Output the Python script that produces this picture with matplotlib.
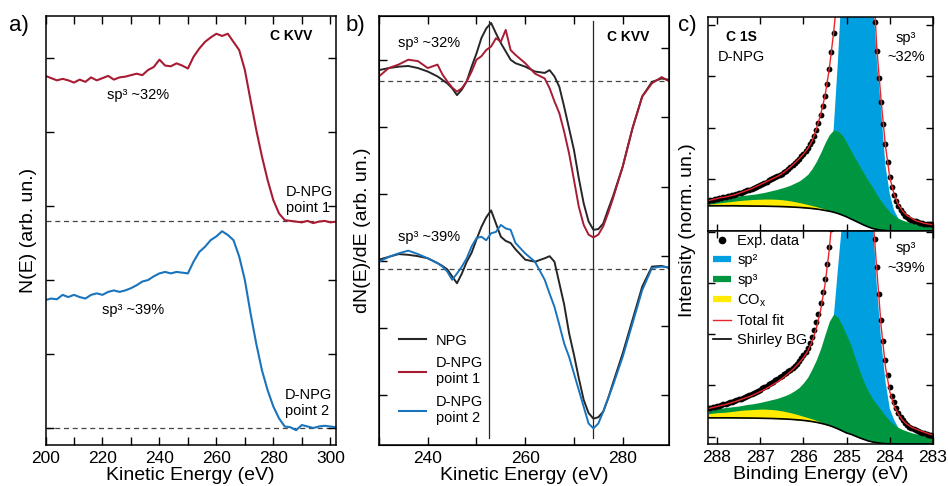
import numpy as np
import matplotlib
matplotlib.use('Agg')
import matplotlib.pyplot as plt
from matplotlib.lines import Line2D

plt.rcParams['font.family'] = ['Liberation Sans', 'DejaVu Sans']
plt.rcParams['mathtext.fontset'] = 'custom'
plt.rcParams['mathtext.rm'] = 'Liberation Sans'

# ---------------- Panel a : N(E) ----------------
ke_a = np.arange(200, 303, 2)
nE_point1 = [4.76, 4.73, 4.70, 4.72, 4.70, 4.67, 4.71, 4.68, 4.74, 4.70,
             4.73, 4.76, 4.71, 4.74, 4.75, 4.77, 4.79, 4.77, 4.84, 4.88,
             4.98, 4.90, 4.89, 4.93, 4.90, 4.86, 5.02, 5.13, 5.22, 5.28,
             5.33, 5.30, 5.33, 5.22, 5.11, 4.84, 4.43, 4.03, 3.67, 3.35,
             3.08, 2.90, 2.81, 2.80, 2.79, 2.78, 2.80, 2.77, 2.79, 2.80,
             2.78, 2.79]
nE_point2 = [1.73, 1.75, 1.74, 1.80, 1.77, 1.80, 1.77, 1.75, 1.80, 1.82,
             1.80, 1.84, 1.86, 1.84, 1.86, 1.89, 1.93, 1.98, 2.00, 2.05,
             2.09, 2.11, 2.09, 2.11, 2.10, 2.09, 2.25, 2.38, 2.45, 2.54,
             2.59, 2.66, 2.61, 2.54, 2.32, 2.00, 1.55, 1.14, 0.78, 0.51,
             0.29, 0.13, 0.02, 0.01, -0.03, 0.04, 0.02, 0.00, 0.02, 0.03,
             0.02, 0.01]
base_a = [2.80, 0.0]

# ---------------- Panel b : dN(E)/dE ----------------
ke_b = [230, 232, 234, 236, 238, 240, 242, 243, 244, 245, 246, 247, 248, 249,
        250, 251, 252, 253, 254, 255, 256, 257, 258, 260, 262, 264, 265, 266,
        267, 268, 269, 270, 271, 272, 273, 274, 275, 276, 277, 278, 280, 282,
        284, 286, 288, 289.5]
npg_up = [4.68, 4.71, 4.73, 4.74, 4.71, 4.66, 4.59, 4.54, 4.49, 4.42, 4.32, 4.40,
          4.52, 4.73, 4.92, 5.14, 5.28, 5.36, 5.21, 5.07, 4.95, 4.83, 4.78, 4.73,
          4.66, 4.64, 4.68, 4.59, 4.44, 4.15, 3.84, 3.53, 3.12, 2.76, 2.50, 2.38,
          2.39, 2.47, 2.67, 2.86, 3.29, 3.84, 4.30, 4.51, 4.56, 4.54]
dnpg_p1 = [4.59, 4.71, 4.76, 4.83, 4.81, 4.71, 4.76, 4.62, 4.52, 4.43, 4.37, 4.42,
           4.52, 4.66, 4.83, 4.88, 4.97, 5.02, 5.14, 5.09, 5.26, 4.97, 4.90, 4.78,
           4.63, 4.56, 4.42, 4.23, 4.06, 3.79, 3.48, 3.10, 2.71, 2.45, 2.31, 2.27,
           2.31, 2.43, 2.62, 2.83, 3.29, 3.84, 4.30, 4.49, 4.58, 4.52]
npg_lo = [1.95, 1.99, 2.03, 2.02, 2.00, 1.97, 1.90, 1.86, 1.81, 1.71, 1.61, 1.75,
          1.92, 2.05, 2.24, 2.42, 2.56, 2.66, 2.47, 2.28, 2.22, 2.19, 2.10, 1.95,
          1.92, 1.97, 2.00, 1.92, 1.61, 1.30, 0.89, 0.58, 0.24, -0.07, -0.26, -0.34,
          -0.32, -0.24, -0.05, 0.17, 0.60, 1.08, 1.56, 1.85, 1.86, 1.83]
dnpg_p2 = [1.92, 1.99, 2.04, 2.08, 2.03, 1.97, 1.90, 1.85, 1.78, 1.66, 1.75, 1.85,
           1.97, 2.14, 2.26, 2.28, 2.23, 2.33, 2.35, 2.45, 2.40, 2.38, 2.19, 2.04,
           1.92, 1.66, 1.46, 1.27, 1.01, 0.74, 0.55, 0.31, 0.07, -0.17, -0.41, -0.48,
           -0.41, -0.24, -0.05, 0.14, 0.55, 1.03, 1.51, 1.83, 1.85, 1.84]
base_b = [4.53, 1.82]
vline_ke = [252.6, 274.0]

# ---------------- Panel c : C 1s fits ----------------
be = np.round(np.linspace(288.2, 283.0, 53), 2)
be_exp = np.round(np.linspace(288.2, 283.0, 105), 2)

bg_1 = [0.49, 0.49, 0.49, 0.49, 0.49, 0.49, 0.49, 0.488, 0.487, 0.486,
        0.485, 0.484, 0.483, 0.482, 0.480, 0.478, 0.476, 0.474, 0.471, 0.467,
        0.463, 0.458, 0.452, 0.445, 0.437, 0.427, 0.415, 0.40, 0.385,
        0.365, 0.34, 0.31, 0.275, 0.235, 0.195, 0.155, 0.115, 0.08, 0.05,
        0.03, 0.017, 0.009, 0.004, 0.002, 0.0, 0.0, 0.0, 0.0, 0.0, 0.0, 0.0, 0.0, 0.0]
cox_1 = [0.52, 0.53, 0.54, 0.55, 0.56, 0.57, 0.58, 0.59, 0.597, 0.604,
         0.61, 0.614, 0.617, 0.62, 0.62, 0.619, 0.615, 0.608, 0.598, 0.585,
         0.57, 0.553, 0.535, 0.515, 0.495, 0.473, 0.45, 0.425, 0.395,
         0.367, 0.34, 0.31, 0.275, 0.235, 0.195, 0.155, 0.115, 0.08, 0.05,
         0.03, 0.017, 0.009, 0.004, 0.002, 0.0, 0.0, 0.0, 0.0, 0.0, 0.0, 0.0, 0.0, 0.0]
sp3_1 = [0.60, 0.61, 0.62, 0.635, 0.645, 0.655, 0.665, 0.675, 0.69, 0.70,
         0.71, 0.72, 0.735, 0.75, 0.77, 0.79, 0.81, 0.835, 0.86, 0.89,
         0.93, 0.97, 1.03, 1.10, 1.21, 1.35, 1.52, 1.71, 1.87,
         1.96, 1.94, 1.86, 1.72, 1.56, 1.41, 1.27, 1.12, 0.98, 0.85,
         0.71, 0.58, 0.47, 0.37, 0.30, 0.245, 0.21, 0.18, 0.16, 0.14,
         0.125, 0.115, 0.105, 0.10]
sp2_1 = [0.50, 0.50, 0.50, 0.50, 0.50, 0.50, 0.50, 0.50, 0.50, 0.50,
         0.50, 0.50, 0.50, 0.50, 0.50, 0.50, 0.50, 0.50, 0.50, 0.51,
         0.52, 0.53, 0.55, 0.58, 0.62, 0.70, 0.85, 1.05, 1.40,
         1.96, 3.30, 4.90, 6.50, 8.20, 9.50, 10.0, 9.40, 7.60, 4.70,
         3.32, 2.35, 1.27, 0.72, 0.40, 0.24, 0.18, 0.14, 0.11, 0.09,
         0.07, 0.06, 0.05, 0.04]
fit_1 = [0.59, 0.61, 0.63, 0.65, 0.66, 0.68, 0.70, 0.73, 0.76, 0.79,
         0.82, 0.86, 0.90, 0.94, 0.98, 1.02, 1.06, 1.11, 1.17, 1.24,
         1.32, 1.40, 1.49, 1.60, 1.74, 1.98, 2.26, 2.62, 3.15,
         3.85, 4.70, 5.90, 7.80, 9.70, 11.0, 11.4, 10.6, 8.20, 5.10,
         3.55, 2.52, 1.65, 1.04, 0.71, 0.51, 0.38, 0.30, 0.25, 0.20,
         0.175, 0.15, 0.135, 0.12]
exp_1 = [0.59, 0.60, 0.61, 0.62, 0.63, 0.64, 0.65, 0.655, 0.665, 0.675,
         0.685, 0.69, 0.70, 0.72, 0.73, 0.745, 0.76, 0.775, 0.79, 0.80,
         0.82, 0.84, 0.86, 0.88, 0.90, 0.92, 0.94, 0.96, 0.985, 1.00,
         1.02, 1.04, 1.06, 1.09, 1.11, 1.14, 1.17, 1.21, 1.24, 1.28,
         1.32, 1.36, 1.40, 1.45, 1.50, 1.55, 1.61, 1.68, 1.75, 1.85,
         1.97, 2.10, 2.25, 2.42, 2.62, 2.86, 3.14, 3.47, 3.84, 4.25,
         4.7, 5.3, 5.9, 6.8, 7.8, 8.8, 9.7, 10.5, 11.0, 11.3,
         11.4, 11.1, 10.6, 9.6, 8.2, 6.6, 5.1,
         4.05, 3.50, 2.98, 2.50, 2.07, 1.68, 1.34, 1.05, 0.86, 0.70,
         0.58, 0.48, 0.40, 0.34, 0.30, 0.27, 0.24, 0.22, 0.20, 0.185,
         0.17, 0.16, 0.15, 0.145, 0.14, 0.135, 0.13, 0.125]

bg_2 = [0.37, 0.37, 0.37, 0.37, 0.37, 0.37, 0.369, 0.368, 0.367, 0.366,
        0.365, 0.364, 0.362, 0.36, 0.358, 0.356, 0.353, 0.35, 0.346, 0.341,
        0.335, 0.328, 0.32, 0.31, 0.298, 0.283, 0.265, 0.245, 0.22,
        0.19, 0.155, 0.115, 0.075, 0.05, 0.015, -0.02, -0.05, -0.08, -0.10,
        -0.115, -0.125, -0.133, -0.137, -0.14, -0.14, -0.14, -0.14, -0.14, -0.14,
        -0.14, -0.14, -0.14, -0.14]
cox_2 = [0.45, 0.46, 0.47, 0.475, 0.48, 0.49, 0.50, 0.51, 0.52, 0.525,
         0.53, 0.535, 0.54, 0.54, 0.535, 0.53, 0.52, 0.505, 0.49, 0.47,
         0.45, 0.425, 0.40, 0.375, 0.35, 0.32, 0.29, 0.26, 0.23,
         0.195, 0.155, 0.115, 0.075, 0.05, 0.015, -0.02, -0.05, -0.08, -0.10,
         -0.115, -0.125, -0.133, -0.137, -0.14, -0.14, -0.14, -0.14, -0.14, -0.14,
         -0.14, -0.14, -0.14, -0.14]
sp3_2 = [0.52, 0.535, 0.55, 0.56, 0.57, 0.58, 0.59, 0.60, 0.615, 0.63,
         0.64, 0.655, 0.67, 0.69, 0.71, 0.73, 0.75, 0.78, 0.81, 0.85,
         0.90, 0.96, 1.05, 1.16, 1.32, 1.50, 1.72, 1.99, 2.25,
         2.39, 2.33, 2.17, 1.98, 1.79, 1.53, 1.29, 1.07, 0.89, 0.74,
         0.63, 0.52, 0.41, 0.31, 0.24, 0.18, 0.14, 0.11, 0.08, 0.06,
         0.04, 0.03, 0.015, 0.0]
sp2_2 = [0.40, 0.40, 0.40, 0.40, 0.40, 0.40, 0.40, 0.40, 0.40, 0.40,
         0.40, 0.40, 0.40, 0.40, 0.40, 0.40, 0.40, 0.40, 0.40, 0.41,
         0.42, 0.43, 0.45, 0.48, 0.53, 0.60, 0.75, 0.95, 1.30,
         2.30, 3.27, 4.20, 6.00, 7.80, 9.20, 9.80, 9.30, 7.40, 4.30,
         2.94, 1.88, 1.08, 0.55, 0.33, 0.17, 0.12, 0.09, 0.06, 0.04,
         0.03, 0.02, 0.01, 0.0]
fit_2 = [0.55, 0.57, 0.59, 0.61, 0.63, 0.655, 0.68, 0.71, 0.74, 0.77,
         0.80, 0.84, 0.88, 0.92, 0.97, 1.02, 1.07, 1.13, 1.20, 1.27,
         1.35, 1.44, 1.54, 1.67, 1.85, 2.11, 2.47, 2.96, 3.65,
         4.60, 5.80, 7.00, 8.30, 9.70, 11.0, 11.6, 11.2, 8.90, 4.40,
         3.25, 2.15, 1.36, 0.88, 0.60, 0.44, 0.32, 0.245, 0.19, 0.15,
         0.12, 0.09, 0.06, 0.03]
exp_2 = [0.56, 0.57, 0.58, 0.59, 0.60, 0.61, 0.62, 0.63, 0.645, 0.66,
         0.67, 0.685, 0.70, 0.715, 0.73, 0.745, 0.76, 0.78, 0.80, 0.82,
         0.84, 0.86, 0.88, 0.90, 0.92, 0.945, 0.97, 0.995, 1.02, 1.045,
         1.07, 1.10, 1.13, 1.16, 1.19, 1.22, 1.25, 1.28, 1.31, 1.34,
         1.38, 1.42, 1.47, 1.53, 1.59, 1.66, 1.74, 1.83, 1.94, 2.08,
         2.23, 2.40, 2.60, 2.82, 3.08, 3.37, 3.70, 4.05, 4.5, 5.0,
         5.6, 6.3, 7.1, 8.0, 9.0, 10.0, 10.9, 11.6, 12.0, 12.2,
         12.1, 11.7, 10.9, 9.7, 8.1, 6.4, 4.8,
         3.85, 3.30, 2.78, 2.28, 1.86, 1.50, 1.20, 0.97, 0.80, 0.67,
         0.56, 0.47, 0.39, 0.32, 0.27, 0.23, 0.20, 0.17, 0.145, 0.125,
         0.105, 0.09, 0.08, 0.07, 0.055, 0.045, 0.03, 0.02]

# ---------------- styles ----------------
RED = '#A81C33'
BLUE = '#1A74BC'
BLK = '#262626'
C_SP2 = '#00A0E0'
C_SP3 = '#00963F'
C_COX = '#FFEA00'
C_FIT = '#E8262A'
DASH = '#444444'

W, H = 948, 486
fig = plt.figure(figsize=(W / 100, H / 100), dpi=100)


def frac(l, t, r, b):
    return [l / W, 1 - b / H, (r - l) / W, (b - t) / H]


def style(ax, length=5):
    for s in ax.spines.values():
        s.set_linewidth(1.1)
    ax.tick_params(which='both', direction='in', top=True, right=True,
                   length=length, width=1.0, labelsize=12.5, pad=4)


LABFS = 14
ANNFS = 10.5

# ---- panel a
axa = fig.add_axes(frac(45.5, 16, 336, 445))
axa.plot(ke_a, nE_point1, color=RED, lw=1.5)
axa.plot(ke_a, nE_point2, color=BLUE, lw=1.5)
for y0 in base_a:
    axa.axhline(y0, color=DASH, lw=0.9, ls=(0, (4, 3)), zorder=0)
axa.set_xlim(200, 302)
axa.set_ylim(-0.23, 5.57)
axa.set_xticks(np.arange(200, 301, 20))
axa.set_xticks(np.arange(210, 301, 20), minor=True)
axa.set_yticks(np.arange(0, 6, 1))
style(axa, 6)
axa.tick_params(labelleft=False)
axa.set_xlabel('Kinetic Energy (eV)', fontsize=LABFS, labelpad=1)
axa.set_ylabel('N(E) (arb. un.)', fontsize=LABFS, labelpad=6)
axa.text(221.5, 4.50, 'sp³ ~32%', fontsize=ANNFS, ha='left', va='center')
axa.text(219.8, 1.59, 'sp³ ~39%', fontsize=ANNFS, ha='left', va='center')
axa.text(284.3, 3.08, 'D-NPG\npoint 1', fontsize=ANNFS, ha='left', va='center',
         linespacing=1.15)
axa.text(284.1, 0.34, 'D-NPG\npoint 2', fontsize=ANNFS, ha='left', va='center',
         linespacing=1.15)
axa.text(278.8, 5.30, 'C KVV', fontsize=10, fontweight='bold', ha='left', va='center')

# ---- panel b
axb = fig.add_axes(frac(379, 16, 669, 445))
axb.plot(ke_b, npg_up, color=BLK, lw=1.4)
axb.plot(ke_b, dnpg_p1, color=RED, lw=1.4)
axb.plot(ke_b, npg_lo, color=BLK, lw=1.4)
axb.plot(ke_b, dnpg_p2, color=BLUE, lw=1.4)
for y0 in base_b:
    axb.axhline(y0, color=DASH, lw=0.9, ls=(0, (4, 3)), zorder=0)
for x0 in vline_ke:
    axb.axvline(x0, ymin=0.016, ymax=0.989, color=BLK, lw=0.9, zorder=0.5)
axb.set_xlim(230, 289.5)
axb.set_ylim(-0.72, 5.46)
axb.set_xticks([240, 260, 280])
axb.set_xticks([230, 250, 270], minor=True)
axb.set_yticks(np.arange(6) * 0.965)
style(axb, 6)
axb.tick_params(labelleft=False, right=False)
axb2 = axb.twinx()
axb2.set_ylim(-0.72, 5.46)
axb2.set_yticks(np.arange(6))
axb2.tick_params(direction='in', length=6, width=1.0, labelright=False)
axb.set_xlabel('Kinetic Energy (eV)', fontsize=LABFS, labelpad=1)
axb.set_ylabel('dN(E)/dE (arb. un.)', fontsize=LABFS, labelpad=6)
axb.text(0.0655, 0.937, 'sp³ ~32%', fontsize=ANNFS, ha='left', va='center',
         transform=axb.transAxes)
axb.text(0.0655, 0.485, 'sp³ ~39%', fontsize=ANNFS, ha='left', va='center',
         transform=axb.transAxes)
axb.text(0.786, 0.951, 'C KVV', fontsize=10, fontweight='bold', ha='left',
         va='center', transform=axb.transAxes)
hb = [Line2D([], [], color=BLK, lw=1.5), Line2D([], [], color=RED, lw=1.5),
      Line2D([], [], color=BLUE, lw=1.5)]
axb.legend(hb, ['NPG', 'D-NPG\npoint 1', 'D-NPG\npoint 2'], loc='lower left',
           bbox_to_anchor=(0.025, 0.015), frameon=False, fontsize=ANNFS,
           handlelength=1.8, handletextpad=0.7, labelspacing=0.6)

# ---- panel c
axc1 = fig.add_axes(frac(708.3, 17, 933, 231))
axc2 = fig.add_axes(frac(708.3, 231, 933, 444))
sets = [(axc1, bg_1, cox_1, sp3_1, sp2_1, fit_1, exp_1, (0, 4.155)),
        (axc2, bg_2, cox_2, sp3_2, sp2_2, fit_2, exp_2, (-0.14, 4.01))]
for ax, bg, cox, sp3, sp2, fit, ex, yl in sets:
    ax.fill_between(be, bg, sp2, color=C_SP2, lw=0)
    ax.fill_between(be, bg, sp3, color=C_SP3, lw=0)
    ax.fill_between(be, bg, cox, color=C_COX, lw=0)
    ax.plot(be, bg, color='black', lw=1.2)
    ax.plot(be_exp, ex, 'o', color='black', ms=4.2, mec='none')
    ax.plot(be, fit, color=C_FIT, lw=1.0)
    ax.set_xlim(288.2, 283.0)
    ax.set_ylim(*yl)
    ax.set_xticks(np.arange(288, 282.9, -1))
    ax.set_yticks(np.arange(0, 4.5, 1))
    style(ax, 5)
    ax.tick_params(labelleft=False)
axc1.tick_params(labelbottom=False)
axc2.set_xticklabels(['288', '287', '286', '285', '284', '283'])
axc2.set_xlabel('Binding Energy (eV)', fontsize=LABFS, labelpad=1)
fig.text(687 / W, 1 - 230.5 / H, 'Intensity (norm. un.)', rotation=90,
         ha='center', va='center', fontsize=LABFS)

axc1.text(0.146, 0.907, 'C 1S', fontsize=10, fontweight='bold', ha='center',
          va='center', transform=axc1.transAxes)
axc1.text(0.146, 0.813, 'D-NPG', fontsize=ANNFS, ha='center', va='center',
          transform=axc1.transAxes)
axc1.text(0.879, 0.902, 'sp³', fontsize=ANNFS, ha='center', va='center',
          transform=axc1.transAxes)
axc1.text(0.879, 0.813, '~32%', fontsize=ANNFS, ha='center', va='center',
          transform=axc1.transAxes)
axc2.text(0.879, 0.92, 'sp³', fontsize=ANNFS, ha='center', va='center',
          transform=axc2.transAxes)
axc2.text(0.879, 0.826, '~39%', fontsize=ANNFS, ha='center', va='center',
          transform=axc2.transAxes)

hc = [Line2D([], [], marker='o', ls='none', color='black', ms=4.5),
      Line2D([], [], color=C_SP2, lw=4.5, solid_capstyle='butt'),
      Line2D([], [], color=C_SP3, lw=4.5, solid_capstyle='butt'),
      Line2D([], [], color=C_COX, lw=4.5, solid_capstyle='butt'),
      Line2D([], [], color=C_FIT, lw=1.0),
      Line2D([], [], color='black', lw=1.2)]
axc2.legend(hc, ['Exp. data', 'sp²', 'sp³', 'CO$_\\mathregular{x}$', 'Total fit',
                 'Shirley BG'], loc='upper left', bbox_to_anchor=(0.021, 0.985),
            frameon=False, fontsize=ANNFS, handlelength=1.25, handletextpad=0.4,
            labelspacing=0.36, borderaxespad=0.0, borderpad=0.0)

fig.text(19 / W, 1 - 25 / H, 'a)', fontsize=16, ha='center', va='center')
fig.text(355 / W, 1 - 26 / H, 'b)', fontsize=16, ha='center', va='center')
fig.text(687 / W, 1 - 25 / H, 'c)', fontsize=16, ha='center', va='center')

fig.savefig('out.png', dpi=100)
